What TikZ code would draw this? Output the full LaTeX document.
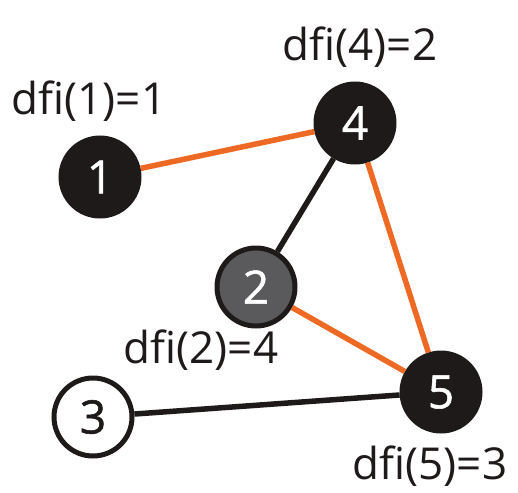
\documentclass[tikz,border=0pt]{standalone}
\usepackage{fontspec}
\setmainfont{Open Sans}
\newfontfamily\digitfont[FakeBold=1.2]{Open Sans}
\definecolor{edgeorange}{HTML}{EE6A24}
\definecolor{nodegray}{HTML}{5A5A5C}
\definecolor{nodeblack}{HTML}{1E1A1A}
\begin{document}
\begin{tikzpicture}[x=1pt,y=-1pt,
  vtx/.style={circle,minimum size=78pt,inner sep=0pt,line width=5pt,draw=nodeblack,font=\digitfont\fontsize{46}{48}\selectfont},
  dark/.style={vtx,fill=nodeblack,text=white},
  grayv/.style={vtx,fill=nodegray,text=white},
  whitev/.style={vtx,fill=white,text=nodeblack},
  lbl/.style={font=\fontsize{44}{48}\selectfont,text=nodeblack,inner sep=0pt},
  oedge/.style={draw=edgeorange,line width=5.5pt},
  bedge/.style={draw=nodeblack,line width=5.5pt}]
\useasboundingbox (0,0) rectangle (518,492);
\node[dark] (n1) at (100,177) {1};
\node[dark] (n4) at (355,123) {4};
\node[grayv] (n2) at (256,287) {2};
\node[whitev] (n3) at (93,417) {3};
\node[dark] (n5) at (441,392) {5};
\node[lbl] (l1) at (89,101) {dfi(1)=1};
\node[lbl] (l4) at (360,47) {dfi(4)=2};
\node[lbl] (l2) at (201,350) {dfi(2)=4};
\node[lbl] (l5) at (430,466) {dfi(5)=3};
\path[oedge] (n1) -- (n4);
\path[bedge] (n4) -- (n2);
\path[oedge] (n4) -- (n5);
\path[oedge] (n2) -- (n5);
\path[bedge] (n3) -- (n5);
\end{tikzpicture}
\end{document}
